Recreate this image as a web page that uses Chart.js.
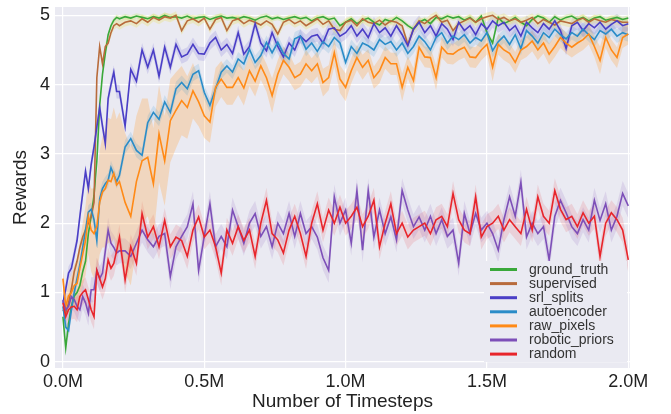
<!DOCTYPE html>
<html>
<head>
<meta charset="utf-8">
<script src="https://cdn.jsdelivr.net/npm/chart.js@4.4.1/dist/chart.umd.min.js"></script>
<style>
  html, body { margin: 0; padding: 0; background: #ffffff; }
  canvas { display: block; }
</style>
</head>
<body>
<canvas id="rewards" width="671" height="414"></canvas>
<script>
// =====================
// DATA (millions of timesteps, reward)
// first 20 points every 0.01M, then every 0.02M up to 2.0M
// =====================
const timesteps = [];
for (let i = 0; i < 20; i++) timesteps.push(i * 0.01);
for (let k = 0; k <= 90; k++) timesteps.push(0.2 + k * 0.02);

const xTicks = [0, 0.5, 1.0, 1.5, 2.0];
const yTicks = [0, 1, 2, 3, 4, 5];

const groundTruth = [
  0.65,0.2,0.55,0.8,0.95,1.0,1.1,1.3,1.45,1.85,2.1,2.4,2.9,3.7,4.15,4.45,4.72,4.85,4.93,4.97,
  4.95,4.98,4.96,4.99,4.97,4.95,4.98,4.96,5.0,4.97,
  4.98,4.96,4.99,4.95,4.97,4.98,4.94,4.97,4.99,4.96,
  4.97,4.95,4.98,4.96,4.93,4.97,4.99,4.95,4.97,4.94,
  4.96,4.98,4.95,4.97,4.92,4.96,4.98,4.94,4.96,4.85,
  4.9,4.95,4.88,4.93,4.96,4.9,4.86,4.94,4.91,4.97,
  4.92,4.85,4.8,4.9,4.94,4.88,4.97,4.95,4.99,4.96,
  4.98,4.93,4.97,4.9,4.99,4.75,4.6,4.97,4.88,4.92,
  4.97,4.9,4.85,4.94,4.99,4.96,4.9,4.98,4.93,4.97,
  4.99,4.94,4.97,4.92,4.96,4.98,4.93,4.95,4.97,4.94,
  4.96
];

const supervised = [
  0.75,0.7,0.85,1.05,1.3,1.45,1.65,1.8,1.9,2.0,2.1,2.3,4.1,4.55,4.3,4.55,4.6,4.75,4.85,4.88,
  4.85,4.9,4.92,4.88,4.95,4.9,4.97,4.93,4.98,4.96,
  5.0,4.78,4.92,4.95,4.9,4.96,4.8,4.94,4.97,4.78,
  4.92,4.95,4.88,4.93,4.9,4.86,4.92,4.87,4.73,4.9,
  4.94,4.88,4.92,4.85,4.9,4.95,4.87,4.92,4.8,4.78,
  4.9,4.93,4.85,4.95,4.9,4.88,4.93,4.86,4.92,4.9,
  4.85,4.58,4.8,4.92,4.88,4.95,5.0,4.9,4.93,4.78,
  4.88,4.92,4.96,4.9,4.95,4.98,5.0,4.94,4.97,4.92,
  4.95,4.9,4.93,4.97,4.88,4.94,4.9,4.86,4.92,4.9,
  4.88,4.93,4.96,4.9,4.95,4.92,4.9,4.94,4.92,4.9,
  4.9
];

const srlSplits = [
  0.85,1.05,1.28,1.35,1.55,1.75,2.1,2.43,2.75,2.5,2.85,3.1,3.39,3.67,3.4,3.15,3.8,4.0,4.18,3.9,
  3.9,3.4,4.22,4.05,4.5,4.25,4.5,4.12,4.54,4.25,
  4.58,4.4,4.44,4.58,4.45,4.44,4.6,4.68,4.5,4.58,
  4.45,4.75,4.44,4.55,4.88,4.6,4.49,4.75,4.55,4.4,
  4.6,4.5,4.7,4.62,4.7,4.72,4.6,4.8,4.82,4.7,
  4.75,4.85,4.7,4.8,4.68,4.88,4.75,4.82,4.7,4.85,
  4.72,4.56,4.8,4.9,4.75,4.85,4.7,4.88,4.8,4.65,
  4.9,4.78,4.85,4.72,4.88,4.8,4.92,4.85,4.9,4.78,
  4.85,4.7,4.9,4.82,4.75,4.88,4.8,4.92,4.78,4.52,
  4.85,4.9,4.78,4.88,4.82,4.9,4.8,4.87,4.92,4.85,
  4.88
];

const autoencoder = [
  0.8,0.5,0.45,0.75,1.0,1.2,1.4,1.65,1.9,2.16,2.2,2.05,1.75,2.35,2.5,2.57,2.62,2.8,2.7,2.6,
  2.69,3.1,3.22,3.05,2.98,3.45,3.6,3.5,3.75,3.6,
  3.94,4.03,3.94,4.15,4.2,3.89,3.7,3.94,4.18,4.27,
  4.18,4.37,4.3,4.51,4.32,4.42,4.61,4.46,4.61,4.45,
  4.37,4.66,4.7,4.51,4.6,4.48,4.62,4.55,4.68,4.6,
  4.32,4.55,4.45,4.6,4.56,4.5,4.65,4.58,4.62,4.5,
  4.6,4.45,4.55,4.7,4.62,4.5,4.68,4.75,4.6,4.7,
  4.65,4.72,4.6,4.68,4.63,4.75,4.49,4.62,4.7,4.58,
  4.72,4.52,4.78,4.7,4.6,4.75,4.68,4.8,4.72,4.66,
  4.75,4.7,4.8,4.72,4.65,4.78,4.73,4.8,4.7,4.75,
  4.72
];

const rawPixels = [
  1.2,0.8,0.95,1.0,1.1,1.13,1.35,1.55,1.75,2.1,1.9,1.85,1.95,2.3,2.45,2.5,2.62,2.6,2.72,2.55,
  2.6,2.3,2.1,2.6,2.9,2.95,2.57,3.29,2.9,3.48,
  3.63,3.77,3.67,3.91,3.75,3.55,3.46,3.96,4.08,3.96,
  3.96,4.1,3.95,4.2,4.05,4.27,4.1,3.84,4.15,4.35,
  4.25,4.1,4.15,4.3,4.2,4.3,4.03,4.1,4.46,4.08,
  3.96,4.2,4.39,4.25,4.35,4.1,4.2,4.39,4.3,4.3,
  3.96,4.25,4.06,4.54,4.4,4.39,4.1,4.54,4.45,4.44,
  4.5,4.54,4.4,4.39,4.5,4.58,4.25,4.58,4.5,4.45,
  4.32,4.5,4.55,4.63,4.5,4.6,4.44,4.55,4.68,4.6,
  4.54,4.6,4.65,4.73,4.55,4.35,4.68,4.5,4.39,4.68,
  4.73
];

const roboticPriors = [
  0.89,0.75,0.8,0.94,0.9,0.8,0.75,0.94,0.85,0.7,1.04,1.04,1.32,1.2,1.28,1.6,1.9,1.71,1.65,1.57,
  1.6,1.6,1.52,1.71,1.9,1.76,1.66,1.81,1.85,1.23,
  1.66,1.81,1.95,2.28,1.32,1.81,2.28,1.66,1.81,1.66,
  2.19,1.95,1.71,2.0,2.14,1.81,1.95,1.66,2.0,1.85,
  2.14,1.81,2.14,1.85,1.95,1.8,1.5,1.32,2.38,2.0,
  2.19,1.71,2.47,1.61,2.47,1.8,2.19,1.85,2.09,1.76,
  2.47,2.19,1.95,2.09,1.9,2.1,1.85,2.05,1.81,1.9,
  1.42,2.14,1.85,2.14,1.9,2.0,1.85,1.61,2.05,2.38,
  2.1,2.59,1.8,2.0,1.85,1.95,1.47,2.1,2.33,2.15,
  1.95,1.85,2.05,1.9,2.33,2.04,2.28,1.9,2.1,2.43,
  2.25
];

const random = [
  0.85,0.65,0.75,0.79,0.8,0.75,0.94,1.0,1.04,0.9,0.75,0.65,1.32,1.2,1.08,1.2,1.47,1.35,1.42,1.6,
  1.8,1.18,1.66,1.42,2.14,1.8,1.95,1.66,2.04,1.66,
  1.8,1.75,1.52,1.9,2.09,1.8,1.9,1.66,1.28,1.9,
  1.71,1.95,1.75,1.9,1.52,2.0,2.33,1.85,1.76,1.57,
  1.9,2.1,1.85,1.52,2.0,2.28,1.9,2.19,2.0,2.23,
  2.0,2.1,2.23,1.95,2.1,2.33,1.66,2.0,2.28,1.85,
  2.0,1.8,1.9,1.95,2.0,1.85,2.05,2.1,1.95,2.43,
  2.05,1.9,1.85,2.38,1.8,1.95,2.0,2.1,1.9,2.05,
  1.95,1.85,2.2,1.9,2.38,2.1,2.0,2.47,2.2,2.05,
  2.1,1.95,2.15,2.0,2.1,1.52,2.0,2.15,2.05,1.9,
  1.47
];

// std band half-widths
const rawPixelsSpread = [
  0.15,0.15,0.2,0.25,0.3,0.35,0.4,0.45,0.5,0.55,0.6,0.65,0.7,0.75,0.8,0.85,0.9,0.9,0.95,0.95,
  1.0,1.0,1.0,0.95,0.9,0.85,0.8,0.7,0.65,0.6,
  0.55,0.5,0.45,0.4,0.35,0.32,0.3,0.28,0.26,0.25,
  0.25,0.25,0.25,0.22,0.22,0.2,0.2,0.25,0.2,0.2,
  0.2,0.18,0.18,0.2,0.18,0.18,0.2,0.18,0.2,0.2,
  0.2,0.18,0.18,0.18,0.16,0.16,0.18,0.16,0.16,0.16,
  0.2,0.16,0.18,0.16,0.15,0.15,0.18,0.15,0.15,0.15,
  0.15,0.15,0.15,0.15,0.15,0.15,0.2,0.15,0.15,0.15,
  0.15,0.15,0.15,0.15,0.15,0.15,0.15,0.15,0.15,0.15,
  0.15,0.15,0.15,0.15,0.15,0.2,0.15,0.15,0.15,0.15,
  0.15
];
const groundTruthSpread = 0.04;
const supervisedSpread = 0.06;
const srlSplitsSpread = 0.1;
const autoencoderSpread = 0.1;
const roboticPriorsSpread = 0.18;
const randomSpread = 0.18;

// =====================
// SERIES SETUP
// =====================
const series = [
  { name: 'ground_truth',   values: groundTruth,   spread: groundTruthSpread,   color: '#3aa83a', band: 'rgba(200,230,120,0.35)' },
  { name: 'supervised',     values: supervised,    spread: supervisedSpread,    color: '#b86b3c', band: 'rgba(235,225,120,0.35)' },
  { name: 'srl_splits',     values: srlSplits,     spread: srlSplitsSpread,     color: '#4a3ec6', band: 'rgba(74,62,198,0.15)' },
  { name: 'autoencoder',    values: autoencoder,   spread: autoencoderSpread,   color: '#2a8cc8', band: 'rgba(42,140,200,0.15)' },
  { name: 'raw_pixels',     values: rawPixels,     spread: rawPixelsSpread,     color: '#ff8a17', band: 'rgba(255,160,60,0.28)' },
  { name: 'robotic_priors', values: roboticPriors, spread: roboticPriorsSpread, color: '#7d4fb8', band: 'rgba(125,79,184,0.14)' },
  { name: 'random',         values: random,        spread: randomSpread,        color: '#e8252b', band: 'rgba(232,37,43,0.13)' }
];

function spreadAt(s, i) {
  return Array.isArray(s.spread) ? s.spread[i] : s.spread;
}

const datasets = [];
series.forEach(s => {
  datasets.push({
    label: s.name + '_hi',
    data: s.values.map((v, i) => ({ x: timesteps[i], y: v + spreadAt(s, i) })),
    borderWidth: 0, pointRadius: 0, fill: false, order: 100
  });
  datasets.push({
    label: s.name + '_lo',
    data: s.values.map((v, i) => ({ x: timesteps[i], y: v - spreadAt(s, i) })),
    borderWidth: 0, pointRadius: 0, fill: '-1', backgroundColor: s.band, order: 100
  });
});
series.forEach((s, idx) => {
  datasets.push({
    label: s.name,
    data: s.values.map((v, i) => ({ x: timesteps[i], y: v })),
    borderColor: s.color,
    borderWidth: 1.6,
    pointRadius: 0,
    fill: false,
    tension: 0,
    order: 6 - idx
  });
});

// =====================
// PLUGINS
// =====================
const plotBackground = {
  id: 'plotBackground',
  beforeDraw(chart) {
    const { ctx, chartArea: a } = chart;
    ctx.save();
    ctx.fillStyle = '#EAEAF2';
    ctx.fillRect(a.left, a.top, a.right - a.left, a.bottom - a.top);
    ctx.restore();
  }
};

const insideLegend = {
  id: 'insideLegend',
  afterDatasetsDraw(chart) {
    const { ctx, chartArea: a } = chart;
    const x0 = a.right - 146, y0 = a.bottom - 107;
    ctx.save();
    ctx.fillStyle = '#EAEAF2';
    ctx.fillRect(x0, y0, 143, 101);
    ctx.font = '14px "Liberation Sans", Arial, sans-serif';
    ctx.textBaseline = 'middle';
    series.forEach((s, i) => {
      const y = y0 + 8.5 + i * 14.1;
      ctx.strokeStyle = s.color;
      ctx.lineWidth = 3;
      ctx.beginPath();
      ctx.moveTo(x0 + 6, y);
      ctx.lineTo(x0 + 33, y);
      ctx.stroke();
      ctx.fillStyle = '#333333';
      ctx.fillText(s.name, x0 + 45, y + 0.5);
    });
    ctx.restore();
  }
};

const FONT = '"Liberation Sans", Arial, sans-serif';

// =====================
// CHART
// =====================
new Chart(document.getElementById('rewards'), {
  type: 'line',
  data: { datasets },
  options: {
    responsive: false,
    animation: false,
    layout: { padding: { left: 0, right: 41, top: 7, bottom: 0 } },
    plugins: {
      legend: { display: false },
      tooltip: { enabled: false }
    },
    scales: {
      x: {
        type: 'linear',
        min: -0.028,
        max: 2.006,
        afterBuildTicks: sc => { sc.ticks = xTicks.map(v => ({ value: v })); },
        afterFit: sc => { sc.height = 46; sc.paddingLeft = 0; sc.paddingRight = 0; },
        border: { display: false },
        grid: { color: '#ffffff', lineWidth: 1.2, drawTicks: false },
        ticks: {
          padding: 3,
          color: '#222222',
          font: { family: FONT, size: 18 },
          callback: v => v.toFixed(1) + 'M'
        },
        title: {
          display: true,
          text: 'Number of Timesteps',
          color: '#222222',
          padding: { top: 0, bottom: 1 },
          font: { family: FONT, size: 19 }
        }
      },
      y: {
        min: -0.09,
        max: 5.12,
        afterBuildTicks: sc => { sc.ticks = yTicks.map(v => ({ value: v })); },
        afterFit: sc => { sc.width = 55; sc.paddingTop = 0; sc.paddingBottom = 0; },
        border: { display: false },
        grid: { color: '#ffffff', lineWidth: 1.2, drawTicks: false },
        ticks: {
          padding: 5,
          color: '#222222',
          font: { family: FONT, size: 18 },
          callback: v => String(v)
        },
        title: {
          display: true,
          text: 'Rewards',
          color: '#222222',
          padding: { top: 9, bottom: 0 },
          font: { family: FONT, size: 19 }
        }
      }
    }
  },
  plugins: [plotBackground, insideLegend]
});
</script>
</body>
</html>
